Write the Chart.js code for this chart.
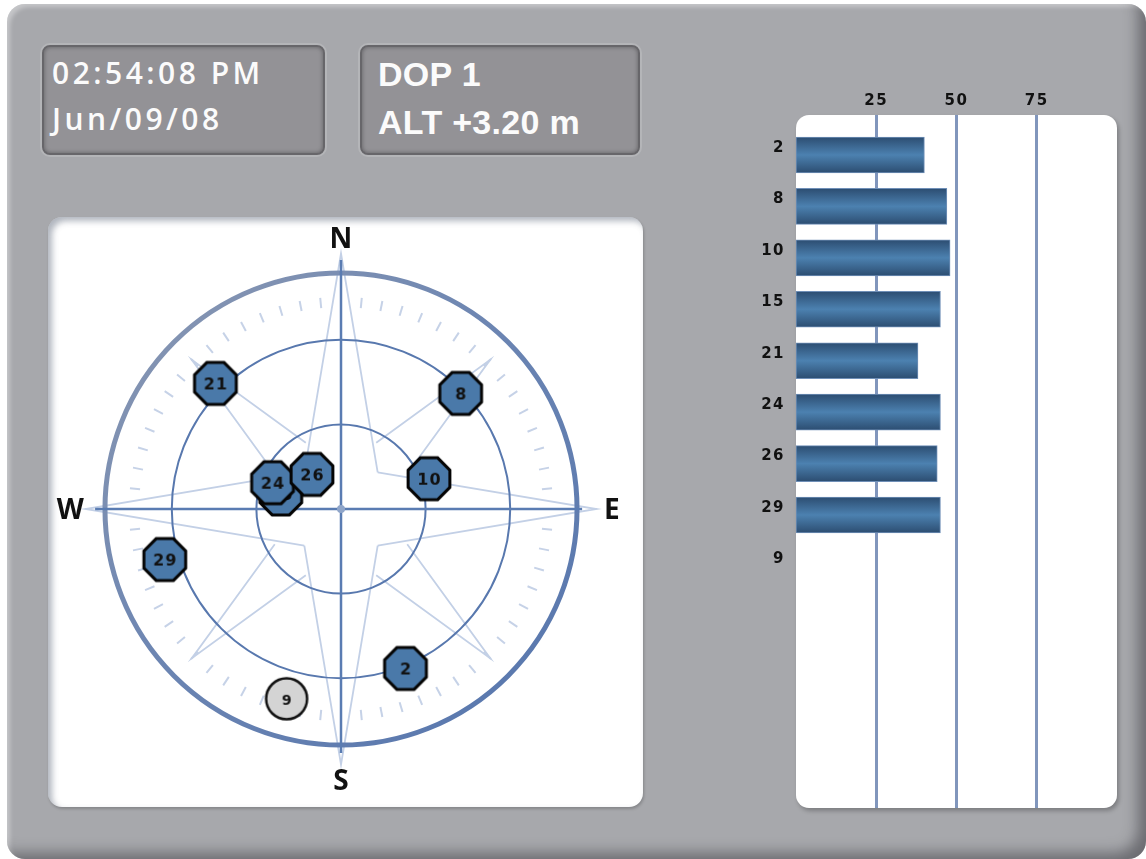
<!DOCTYPE html>
<html><head><meta charset="utf-8">
<script src="https://cdn.jsdelivr.net/npm/chart.js@4.4.0/dist/chart.umd.min.js"></script>
<style>
html,body{margin:0;padding:0;background:#fff;width:1146px;height:859px;overflow:hidden;position:relative;}
#frame{position:absolute;left:7px;top:4px;width:1139px;height:855px;border-radius:18px;background:#a7a8ac;
  box-shadow: inset -14px -12px 14px -6px rgba(50,50,55,.5), inset 4px 4px 4px -1px rgba(255,255,255,.35);}
.box{position:absolute;top:45px;height:110px;background:#939296;border:2px solid #67666a;border-radius:8px;
  box-shadow:0 0 0 2px #b4b5b8, inset 0 0 4px rgba(0,0,0,.35);box-sizing:border-box;}
.t{position:absolute;color:#fbfbfb;white-space:nowrap;line-height:1;}
.t1{font-family:"Open Sans";font-weight:600;font-size:30px;letter-spacing:3.5px;}
.t2{font-family:"Liberation Sans";font-weight:bold;font-size:34px;letter-spacing:0.3px;}
.panel{position:absolute;background:#fff;border-radius:14px;}
canvas{position:absolute;}
</style></head>
<body>
<div id="frame"></div>
<div class="box" style="left:42px;width:283px;"></div>
<div class="box" style="left:360px;width:280px;"></div>
<div class="t t1" style="left:52px;top:58px;">02:54:08 PM</div>
<div class="t t1" style="left:52px;top:104px;">Jun/09/08</div>
<div class="t t2" style="left:378px;top:57px;">DOP 1</div>
<div class="t t2" style="left:378px;top:105px;">ALT +3.20 m</div>
<div class="panel" style="left:48px;top:217px;width:595px;height:590px;box-shadow:inset 4px 4px 6px rgba(80,90,110,.45), 1px 2px 3px rgba(0,0,0,.2);"></div>
<div class="panel" style="left:796px;top:115px;width:321px;height:693px;border-radius:13px;box-shadow:2px 3px 4px rgba(0,0,0,.25);"></div>
<canvas id="sky" width="580" height="580" style="left:51px;top:219px;width:580px;height:580px;"></canvas>
<canvas id="bars" width="377" height="728" style="left:740px;top:80px;width:377px;height:728px;"></canvas>
<script>
// ---- data ----
const satIds    = ['2','8','10','15','21','24','26','29','9'];
const snr       = [40, 47, 48, 45, 38, 45, 44, 45, 0];
const azimuth   = [158, 46, 71, 284, 315, 291, 320, 254, 196];
const elevation = [29, 31, 57, 68, 27, 64, 74, 25, 20];
const snrTicks  = [25, 50, 75];
const cardinals = ['N','E','S','W'];

// ---- satellite icons ----
function makeIcon(label, used){
  const c = document.createElement('canvas'); c.width = 54; c.height = 54;
  const g = c.getContext('2d'); const cx = 27, cy = 27;
  g.beginPath();
  if (used){
    const R = 22.6;
    for (let k = 0; k < 8; k++){
      const a = (22.5 + 45*k) * Math.PI/180;
      const x = cx + R*Math.cos(a), y = cy + R*Math.sin(a);
      k ? g.lineTo(x,y) : g.moveTo(x,y);
    }
    g.closePath();
    g.fillStyle = '#4a79a9'; g.fill();
    g.lineWidth = 3; g.lineJoin = 'miter'; g.strokeStyle = '#050505'; g.stroke();
    g.font = 'bold 16px "DejaVu Sans"';
  } else {
    g.arc(cx, cy, 20.5, 0, Math.PI*2);
    g.fillStyle = '#d4d4d4'; g.fill();
    g.lineWidth = 2.5; g.strokeStyle = '#111'; g.stroke();
    g.font = 'bold 14px "DejaVu Sans"';
  }
  g.letterSpacing = '1px';
  g.fillStyle = '#111';
  g.textAlign = 'center'; g.textBaseline = 'alphabetic';
  g.fillText(label, cx + 0.5, cy + 6);
  return c;
}
const icons = satIds.map((s,i) => makeIcon(s, snr[i] > 0));

// ---- sky plot ----
const skyPoints = azimuth.map((a,i) => {
  const z = 90 - elevation[i], r = a*Math.PI/180;
  return {x: z*Math.sin(r), y: z*Math.cos(r)};
});
const PX_PER_DEG = 2.82;
const HALF = 290 / PX_PER_DEG;

const compassPlugin = {
  id: 'compass',
  beforeDatasetsDraw(chart){
    const ctx = chart.ctx, xs = chart.scales.x, ys = chart.scales.y;
    const cx = xs.getPixelForValue(0), cy = ys.getPixelForValue(0);
    const k = xs.getPixelForValue(1) - cx;
    const P = (az, z) => { const a = az*Math.PI/180; return [cx + z*k*Math.sin(a), cy - z*k*Math.cos(a)]; };
    const line = (p1, p2) => { ctx.beginPath(); ctx.moveTo(p1[0],p1[1]); ctx.lineTo(p2[0],p2[1]); ctx.stroke(); };
    ctx.save();
    ctx.lineCap = 'butt';
    // tick marks
    ctx.strokeStyle = '#c6d2e7'; ctx.lineWidth = 2;
    for (let i = 0; i < 64; i++){
      if (i % 16 === 0) continue;
      const az = i*5.625;
      line(P(az, 71.6), P(az, 75.2));
    }
    // compass star
    ctx.strokeStyle = '#c3d0e6'; ctx.lineWidth = 1.8; ctx.lineJoin = 'miter';
    [0,90,180,270].forEach(az => {
      const b1 = P(az-45, 18.4), t = P(az, 90.6), b2 = P(az+45, 18.4);
      ctx.beginPath(); ctx.moveTo(b1[0],b1[1]); ctx.lineTo(t[0],t[1]); ctx.lineTo(b2[0],b2[1]); ctx.stroke();
    });
    [45,135,225,315].forEach(az => {
      const b1 = P(az-17, 26.6), t = P(az, 74.8), b2 = P(az+17, 26.6);
      ctx.beginPath(); ctx.moveTo(b1[0],b1[1]); ctx.lineTo(t[0],t[1]); ctx.lineTo(b2[0],b2[1]); ctx.stroke();
    });
    // elevation rings
    ctx.strokeStyle = '#5878ae'; ctx.lineWidth = 2;
    [30, 60].forEach(z => { ctx.beginPath(); ctx.arc(cx, cy, z*k, 0, Math.PI*2); ctx.stroke(); });
    // outer ring
    const gr = ctx.createLinearGradient(cx-240, cy-240, cx+240, cy+240);
    gr.addColorStop(0, '#8c99b2'); gr.addColorStop(0.5, '#6a84b2'); gr.addColorStop(1, '#5575ad');
    ctx.strokeStyle = gr; ctx.lineWidth = 5;
    ctx.beginPath(); ctx.arc(cx, cy, 83.7*k, 0, Math.PI*2); ctx.stroke();
    // cross lines
    ctx.strokeStyle = '#5a7cb2'; ctx.lineWidth = 2.5;
    line(P(0, 88.3), P(180, 86.5));
    line(P(270, 87.2), P(90, 85.5));
    // centre dot
    ctx.fillStyle = '#8fa5c9';
    ctx.beginPath(); ctx.arc(cx, cy, 4, 0, Math.PI*2); ctx.fill();
    // cardinal labels
    ctx.fillStyle = '#111'; ctx.font = '700 28px "Open Sans"';
    ctx.textAlign = 'center'; ctx.textBaseline = 'alphabetic';
    cardinals.forEach((lab, i) => {
      const p = P(i*90, 96);
      ctx.fillText(lab, p[0], p[1] + 10);
    });
    ctx.restore();
  }
};

new Chart(document.getElementById('sky'), {
  type: 'scatter',
  data: { datasets: [{
    data: skyPoints,
    pointStyle: c => icons[c.dataIndex],
    pointRadius: 20,
    pointHoverRadius: 20
  }]},
  options: {
    responsive: false, animation: false, events: [],
    layout: { padding: 0, autoPadding: false },
    plugins: { legend: {display:false}, tooltip: {enabled:false} },
    scales: {
      x: { type:'linear', min:-HALF, max:HALF, display:false },
      y: { type:'linear', min:-HALF, max:HALF, display:false }
    }
  },
  plugins: [compassPlugin]
});

// ---- SNR bars ----
const ROW_PX = 51.43, AREA_H = 693, FIRST_OFF = 40;
const yMin = -FIRST_OFF / ROW_PX, yMax = yMin + AREA_H / ROW_PX;
const tickFont = { family:'DejaVu Sans', weight:'bold', size:15 };

new Chart(document.getElementById('bars'), {
  type: 'bar',
  data: { datasets: [{
    data: satIds.map((s,i) => ({x: snr[i], y: i})),
    barThickness: 36,
    borderWidth: 1,
    borderColor: '#6f8fb7',
    borderSkipped: false,
    backgroundColor: c => {
      const ch = c.chart, ys = ch.scales.y;
      if (!ys || c.dataIndex === undefined) return '#4676a6';
      const yc = ys.getPixelForValue(c.dataIndex);
      if (!isFinite(yc)) return '#4676a6';
      const g = ch.ctx.createLinearGradient(0, yc-18, 0, yc+18);
      g.addColorStop(0, '#2c4d71'); g.addColorStop(0.5, '#4c81b0'); g.addColorStop(1, '#2c4d71');
      return g;
    }
  }]},
  options: {
    indexAxis: 'y', responsive: false, animation: false, events: [],
    layout: { padding: 0, autoPadding: false },
    plugins: { legend: {display:false}, tooltip: {enabled:false} },
    scales: {
      x: { type:'linear', position:'top', min:0, max:100, offset:false,
        afterBuildTicks: s => { s.ticks = snrTicks.map(v => ({value:v})); },
        afterFit: s => { s.height = 35; s.paddingLeft = 0; s.paddingRight = 0; },
        grid: { color:'#8196bc', lineWidth:3, drawTicks:false, offset:false },
        border: { display:false },
        ticks: { padding:5, color:'#111', font: tickFont }
      },
      y: { type:'linear', reverse:true, min:yMin, max:yMax, offset:false, bounds:'data',
        afterBuildTicks: s => { s.ticks = satIds.map((_,i) => ({value:i})); },
        afterFit: s => { s.width = 56; s.paddingTop = 0; s.paddingBottom = 0; },
        grid: { display:false, offset:false }, border: { display:false },
        ticks: { callback: v => satIds[v], padding:3, labelOffset:-7, autoSkip:false,
          color:'#111', font: tickFont }
      }
    }
  },
  plugins: [{ id:'spacing', beforeDraw(ch){ ch.ctx.letterSpacing = '1.5px'; } }]
});
</script>
</body></html>
